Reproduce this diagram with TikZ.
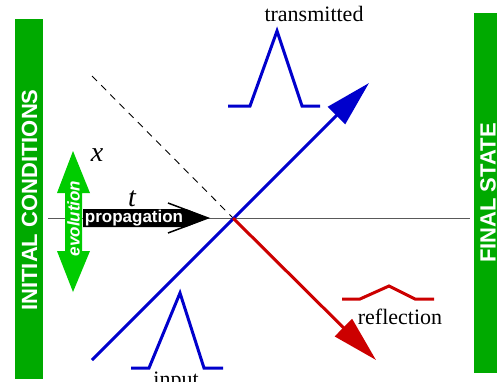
\documentclass[tikz,border=0pt]{standalone}
\usepackage{fontspec}
\setmainfont{Liberation Serif}
\setsansfont{Liberation Sans}
\usetikzlibrary{arrows.meta, positioning}

\definecolor{barGreen}{RGB}{0,170,0}
\definecolor{evoGreen}{RGB}{0,204,0}
\definecolor{waveBlue}{RGB}{0,0,204}
\definecolor{waveRed}{RGB}{204,0,0}

\begin{document}
\begin{tikzpicture}[x=1pt, y=-1pt,
    pulse/.style={line width=3pt, line join=miter},
    ray/.style={line width=3pt, -{Triangle[length=46pt, width=24pt]}},
    barlabel/.style={white, rotate=90, inner sep=0pt,
      font=\sffamily\bfseries\fontsize{22}{22}\selectfont},
    inlabel/.style={white, inner sep=0pt,
      font=\sffamily\bfseries\fontsize{17}{17}\selectfont},
    lab/.style={inner sep=0pt, font=\fontsize{22}{22}\selectfont},
    varlab/.style={inner sep=0pt, font=\itshape\fontsize{28}{28}\selectfont}]

    \useasboundingbox (0,0) rectangle (497,381);
    \clip (0,0) rectangle (497,381);

    % =================================================================
    % 1. GREEN BARS AT BOTH SIDES
    % =================================================================
    \fill[barGreen] (15,19) rectangle (43,379);
    \node[barlabel] (init) at (29.5,200) {INITIAL CONDITIONS};
    \fill[barGreen] (474,13) rectangle (500,373);
    \node[barlabel] (final) at (488,193) {FINAL STATE};

    % =================================================================
    % 2. AXIS, DASHED LINE AND THE TWO RAYS
    % =================================================================
    \coordinate (O) at (233,218);
    \coordinate (axisL) at (48,218);
    \coordinate (axisR) at (470,218);
    \coordinate (dashS) at (92,76);
    \coordinate (blueS) at (92,360);
    \coordinate (blueT) at (369,83);
    \coordinate (redT) at (376,360);

    \draw[gray!70!black, line width=1pt] (axisL) -- (axisR);
    \draw[line width=0.9pt, dash pattern=on 7pt off 6pt] (dashS) -- (O);

    \draw[ray, waveBlue] (blueS) -- (blueT);
    \draw[ray, waveRed] (O) -- (redT);

    % =================================================================
    % 3. PULSES AND THEIR LABELS
    % =================================================================
    \draw[pulse, waveBlue] (131,368) -- (149,368) -- (180,293) -- (204,368) -- (223,368);
    \draw[pulse, waveBlue] (228,106) -- (250,106) -- (277,31) -- (302,106) -- (320,106);
    \draw[pulse, waveRed] (342,299) -- (360,299) -- (389,286) -- (415,299) -- (434,299);

    \node[lab] (input) at (176,382) {input};
    \node[lab] (trans) at (314,13.5) {transmitted};
    \node[lab] (refl) at (400,317) {reflection};

    % =================================================================
    % 4. EVOLUTION AND PROPAGATION ARROWS
    % =================================================================
    \fill[evoGreen] (73,151) -- (90,193) -- (82,193) -- (82,251) -- (90,251)
        -- (73,292) -- (57,251) -- (65,251) -- (65,193) -- (57,193) -- cycle;
    \node[inlabel, rotate=90] (evo) at (73.5,218.5) {\itshape evolution};

    \fill (83,209) -- (186,209) -- (208,218) -- (186,227) -- (83,227) -- cycle;
    \draw[line width=1.5pt] (168,203) -- (208,218) -- (168,233);
    \node[inlabel] (prop) at (134,218) {propagation};

    \node[varlab] (tlab) at (132,199) {t};
    \node[varlab] (xlab) at (97,155) {x};

\end{tikzpicture}
\end{document}
